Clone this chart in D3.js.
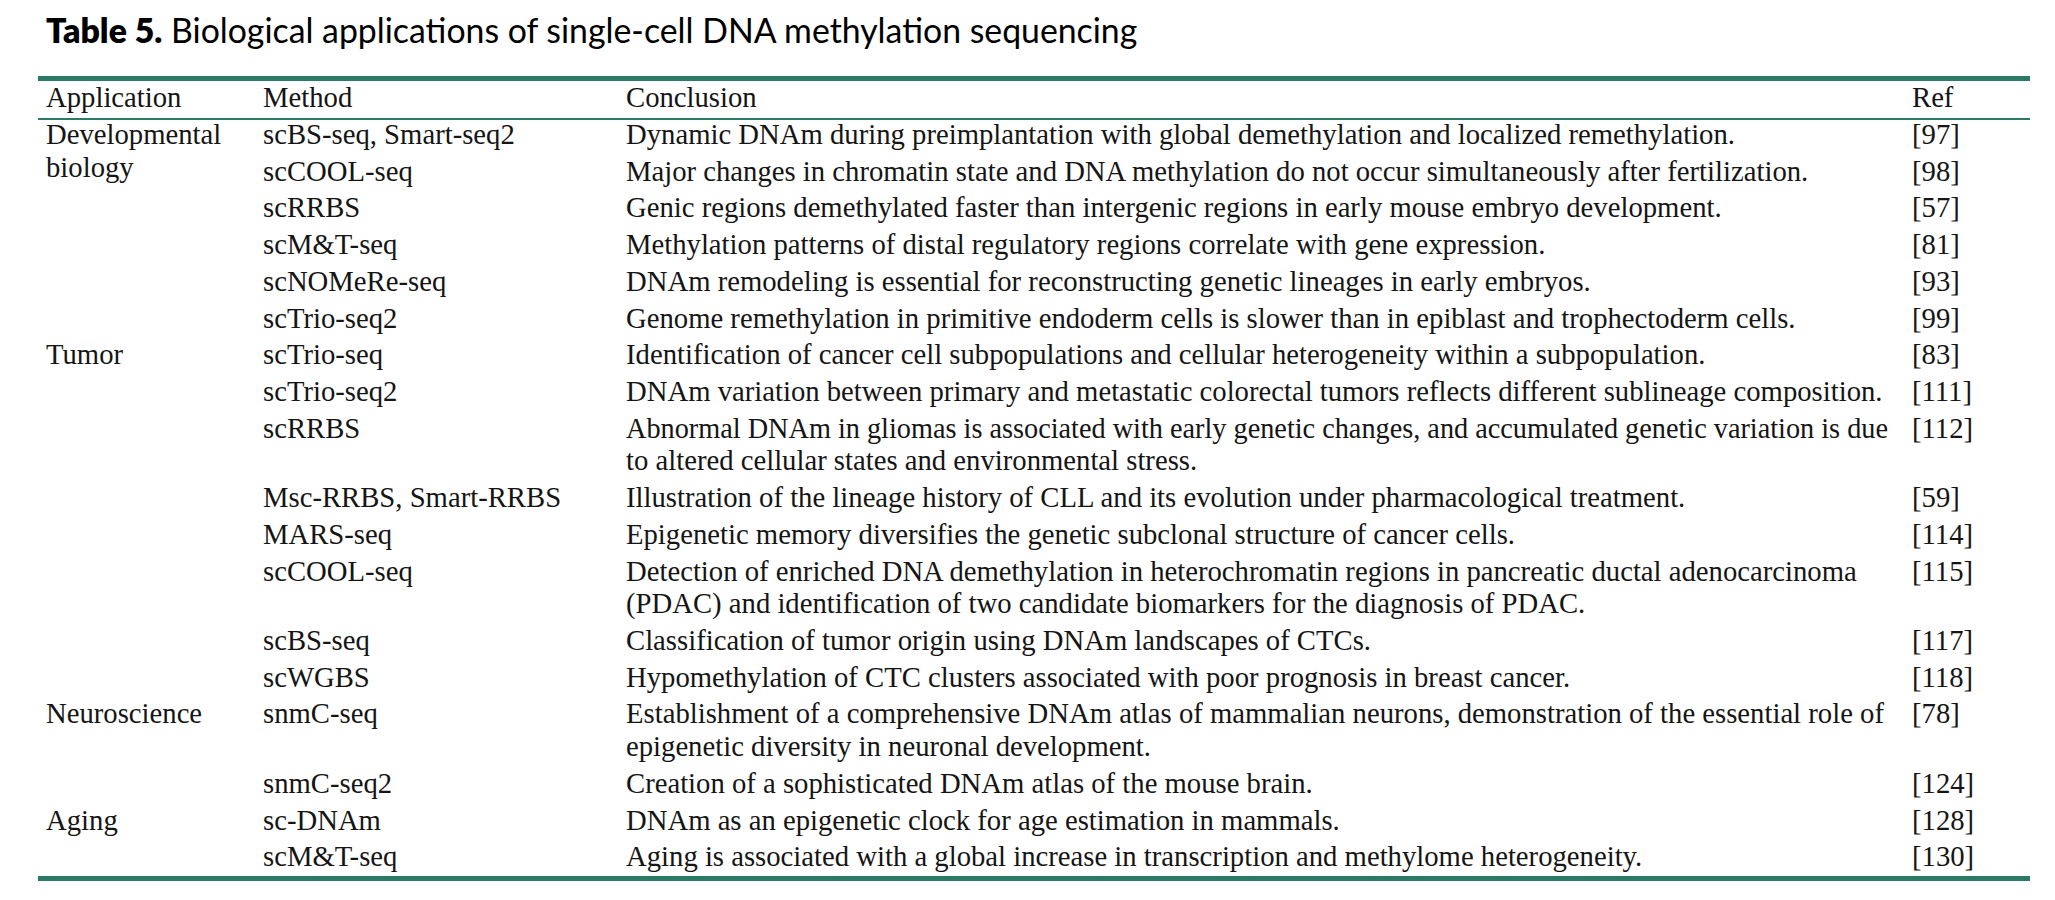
<!DOCTYPE html>
<html>
<head>
<meta charset="utf-8">
<script src="https://cdn.jsdelivr.net/npm/d3@7"></script>
<style>
  html, body { margin: 0; padding: 0; background: #fff; }
  svg { display: block; }
</style>
</head>
<body>
<div id="chart"></div>
<script>
// table content, one entry per row
const applications = [
  ["Developmental", "biology"], [], [], [], [], [],
  ["Tumor"], [], [], [], [], [], [], [],
  ["Neuroscience"], [],
  ["Aging"], []
];
const methods = [
  "scBS-seq, Smart-seq2", "scCOOL-seq", "scRRBS", "scM&T-seq", "scNOMeRe-seq", "scTrio-seq2",
  "scTrio-seq", "scTrio-seq2", "scRRBS", "Msc-RRBS, Smart-RRBS", "MARS-seq", "scCOOL-seq", "scBS-seq", "scWGBS",
  "snmC-seq", "snmC-seq2",
  "sc-DNAm", "scM&T-seq"
];
const conclusions = [
  ["Dynamic DNAm during preimplantation with global demethylation and localized remethylation."],
  ["Major changes in chromatin state and DNA methylation do not occur simultaneously after fertilization."],
  ["Genic regions demethylated faster than intergenic regions in early mouse embryo development."],
  ["Methylation patterns of distal regulatory regions correlate with gene expression."],
  ["DNAm remodeling is essential for reconstructing genetic lineages in early embryos."],
  ["Genome remethylation in primitive endoderm cells is slower than in epiblast and trophectoderm cells."],
  ["Identification of cancer cell subpopulations and cellular heterogeneity within a subpopulation."],
  ["DNAm variation between primary and metastatic colorectal tumors reflects different sublineage composition."],
  ["Abnormal DNAm in gliomas is associated with early genetic changes, and accumulated genetic variation is due",
   "to altered cellular states and environmental stress."],
  ["Illustration of the lineage history of CLL and its evolution under pharmacological treatment."],
  ["Epigenetic memory diversifies the genetic subclonal structure of cancer cells."],
  ["Detection of enriched DNA demethylation in heterochromatin regions in pancreatic ductal adenocarcinoma",
   "(PDAC) and identification of two candidate biomarkers for the diagnosis of PDAC."],
  ["Classification of tumor origin using DNAm landscapes of CTCs."],
  ["Hypomethylation of CTC clusters associated with poor prognosis in breast cancer."],
  ["Establishment of a comprehensive DNAm atlas of mammalian neurons, demonstration of the essential role of",
   "epigenetic diversity in neuronal development."],
  ["Creation of a sophisticated DNAm atlas of the mouse brain."],
  ["DNAm as an epigenetic clock for age estimation in mammals."],
  ["Aging is associated with a global increase in transcription and methylome heterogeneity."]
];
const refs = ["[97]", "[98]", "[57]", "[81]", "[93]", "[99]", "[83]", "[111]", "[112]", "[59]",
  "[114]", "[115]", "[117]", "[118]", "[78]", "[124]", "[128]", "[130]"];
const headers = ["Application", "Method", "Conclusion", "Ref"];
const titleBold = "Table 5.";
const titleRest = " Biological applications of single-cell DNA methylation sequencing";

const config = {
  width: 2055,
  height: 900,
  left: 38,      // rule start
  right: 2030,   // rule end
  ruleColor: "#2b7b66",
  textColor: "#151515",
  bodyFont: "'Liberation Serif', 'Times New Roman', serif",
  titleFont: "Lato, 'Open Sans', sans-serif",
  firstBaseline: 144,
  rowPitch: 36.7,   // one row to the next
  lineStep: 32.8,   // extra line inside a cell
  maxConcWidth: 1262 // conclusion text must stop before the Ref column
};

const svg = d3.select("#chart").append("svg")
  .attr("width", config.width)
  .attr("height", config.height);

// column positions
const xCol = d3.scaleOrdinal()
  .domain(headers)
  .range([46, 263, 626, 1912]);

// fit body font so the longest line spans like in the picture (626 -> 1883)
const probe = svg.append("text")
  .style("font-family", config.bodyFont)
  .style("font-size", "100px")
  .text(conclusions[7][0]);
const bodySize = 100 * (1883 - 626) / probe.node().getComputedTextLength();
probe.remove();

// title, fitted to 46 -> 1138
const title = svg.append("text")
  .attr("x", 46)
  .attr("y", 43)
  .attr("fill", "#000")
  .style("font-family", config.titleFont)
  .style("font-size", "100px");
title.append("tspan").style("font-weight", 800).text(titleBold);
title.append("tspan").style("font-weight", 400).text(titleRest);
const titleSize = 100 * (1138 - 46) / title.node().getComputedTextLength();
title.style("font-size", titleSize + "px");

// rules
const rules = [
  { y: 78.5, w: 5 },
  { y: 119, w: 2 },
  { y: 878.5, w: 5 }
];
svg.selectAll("line.rule")
  .data(rules)
  .enter().append("line")
  .attr("class", "rule")
  .attr("x1", config.left)
  .attr("x2", config.right)
  .attr("y1", d => d.y)
  .attr("y2", d => d.y)
  .attr("stroke", config.ruleColor)
  .attr("stroke-width", d => d.w);

// header
svg.selectAll("text.head")
  .data(headers)
  .enter().append("text")
  .attr("class", "head")
  .attr("x", d => xCol(d))
  .attr("y", 107)
  .attr("fill", config.textColor)
  .style("font-family", config.bodyFont)
  .style("font-size", bodySize + "px")
  .text(d => d);

// row baselines: each row adds a pitch, plus a step for every wrapped line
const rows = methods.map((m, i) => ({
  app: applications[i],
  method: [m],
  conc: conclusions[i],
  ref: [refs[i]],
  extra: conclusions[i].length - 1
}));
const extraBefore = d3.cumsum(rows, d => d.extra);
const yRow = d3.scaleLinear()
  .domain([0, 1])
  .range([config.firstBaseline, config.firstBaseline + config.rowPitch]);
rows.forEach((r, i) => {
  r.y = yRow(i) + (i > 0 ? extraBefore[i - 1] : 0) * config.lineStep;
});

const rowG = svg.selectAll("g.row")
  .data(rows)
  .enter().append("g")
  .attr("class", "row")
  .attr("transform", d => "translate(0," + d.y + ")");

const cells = [
  { key: "app", col: "Application" },
  { key: "method", col: "Method" },
  { key: "conc", col: "Conclusion" },
  { key: "ref", col: "Ref" }
];

cells.forEach(c => {
  rowG.append("text")
    .attr("class", "cell-" + c.key)
    .attr("x", xCol(c.col))
    .attr("fill", config.textColor)
    .style("font-family", config.bodyFont)
    .style("font-size", bodySize + "px")
    .selectAll("tspan")
    .data(d => d[c.key])
    .enter().append("tspan")
    .attr("x", xCol(c.col))
    .attr("y", (d, i) => i * config.lineStep)
    .text(d => d);
});

// squeeze any conclusion line that would run into the Ref column
svg.selectAll("text.cell-conc tspan").each(function () {
  const len = this.getComputedTextLength();
  if (len > config.maxConcWidth) {
    d3.select(this)
      .attr("textLength", config.maxConcWidth)
      .attr("lengthAdjust", "spacingAndGlyphs");
  }
});
</script>
</body>
</html>
